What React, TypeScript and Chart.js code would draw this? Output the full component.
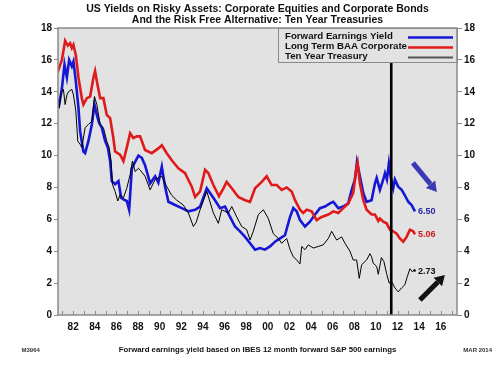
import React, { useEffect, useRef } from "react";
import { Chart, registerables } from "chart.js";

Chart.register(...registerables);

// ---------- text ----------
const TITLE_LINES = [
  "US Yields on Risky Assets: Corporate Equities and Corporate Bonds",
  "And the Risk Free Alternative: Ten Year Treasuries",
];
const SERIES_LABELS = ["Forward Earnings Yield", "Long Term BAA Corporate", "Ten Year Treasury"];
const FOOTNOTE = "Forward earnings yield based on IBES 12 month forward S&P 500 earnings";
const CODE_LABEL = "M3964";
const DATE_LABEL = "MAR 2014";
const LAST_LABELS = ["6.50", "5.06", "2.73"];

// ---------- axes ----------
const X_MIN = 1980.6;
const X_MAX = 2017.5;
const X_TICK_YEARS = [1982, 1984, 1986, 1988, 1990, 1992, 1994, 1996, 1998, 2000, 2002, 2004, 2006, 2008, 2010, 2012, 2014, 2016];
const Y_MIN = 0;
const Y_MAX = 18;
const Y_STEP = 2;
const MARKER_YEAR = 2011.42;

// ---------- series ----------
const fwdYears = [1980.49, 1980.71, 1980.96, 1981.2, 1981.42, 1981.63, 1981.88, 1982.03, 1982.25, 1982.49, 1982.65, 1982.95, 1983.11, 1983.41, 1983.73, 1983.97, 1984.19, 1984.4, 1984.65, 1984.96, 1985.21, 1985.42, 1985.58, 1985.88, 1986.19, 1986.44, 1986.65, 1986.96, 1987.18, 1987.43, 1987.73, 1988.04, 1988.35, 1988.65, 1989.12, 1989.58, 1989.88, 1990.2, 1990.5, 1990.81, 1991.43, 1992.05, 1992.66, 1993.28, 1993.74, 1994.36, 1994.82, 1995.12, 1995.59, 1996.05, 1996.51, 1996.97, 1997.43, 1997.9, 1998.36, 1998.82, 1999.28, 1999.74, 2000.21, 2000.67, 2001.13, 2001.59, 2002.06, 2002.36, 2002.67, 2002.98, 2003.44, 2003.9, 2004.37, 2004.83, 2005.29, 2005.75, 2006.06, 2006.52, 2006.98, 2007.44, 2007.76, 2008.06, 2008.25, 2008.52, 2008.83, 2009.14, 2009.6, 2009.91, 2010.07, 2010.37, 2010.68, 2010.84, 2011.02, 2011.2, 2011.36, 2011.6, 2011.76, 2012.06, 2012.38, 2012.68, 2012.99, 2013.3, 2013.61];
const fwdValues = [13.6, 13.2, 14.2, 15.7, 14.9, 16.0, 15.6, 15.9, 14.65, 13.0, 11.5, 10.25, 10.15, 10.9, 11.95, 13.2, 12.55, 12.05, 11.75, 10.9, 10.5, 9.65, 8.4, 8.2, 8.4, 7.35, 7.25, 7.15, 6.6, 9.2, 9.6, 10.0, 9.85, 9.4, 8.25, 8.7, 8.3, 9.3, 8.05, 7.1, 6.9, 6.7, 6.5, 6.6, 6.8, 7.95, 7.5, 7.2, 6.7, 6.8, 6.15, 5.55, 5.25, 4.9, 4.5, 4.1, 4.2, 4.1, 4.3, 4.6, 4.8, 5.0, 6.15, 6.7, 6.5, 5.95, 5.55, 5.85, 6.3, 6.7, 6.8, 7.0, 7.1, 6.7, 6.8, 7.0, 7.85, 8.5, 9.6, 8.7, 7.65, 7.1, 7.2, 8.25, 8.6, 7.85, 8.5, 8.9, 8.5, 9.5, 8.7, 7.95, 8.5, 8.05, 7.85, 7.5, 7.1, 6.9, 6.5];

const baaYears = [1980.55, 1980.96, 1981.26, 1981.51, 1981.72, 1981.88, 1982.03, 1982.25, 1982.49, 1982.8, 1982.95, 1983.27, 1983.57, 1983.88, 1984.03, 1984.25, 1984.5, 1984.8, 1985.11, 1985.42, 1985.72, 1985.88, 1986.34, 1986.65, 1986.96, 1987.27, 1987.57, 1987.89, 1988.19, 1988.65, 1989.27, 1989.88, 1990.2, 1990.66, 1991.12, 1991.73, 1992.35, 1992.97, 1993.28, 1993.74, 1994.2, 1994.5, 1994.97, 1995.49, 1995.86, 1996.2, 1996.67, 1997.28, 1997.9, 1998.36, 1998.82, 1999.44, 1999.9, 2000.36, 2000.83, 2001.29, 2001.75, 2002.21, 2002.52, 2002.98, 2003.28, 2003.6, 2004.06, 2004.52, 2004.98, 2005.6, 2006.06, 2006.52, 2006.98, 2007.44, 2007.9, 2008.22, 2008.31, 2008.52, 2008.83, 2009.14, 2009.6, 2009.91, 2010.22, 2010.37, 2010.68, 2010.99, 2011.3, 2011.6, 2011.92, 2012.22, 2012.53, 2012.84, 2013.15, 2013.45, 2013.61];
const baaValues = [15.2, 16.0, 17.2, 16.9, 17.05, 16.75, 16.95, 16.3, 14.9, 13.6, 13.2, 13.6, 13.7, 14.9, 15.3, 14.45, 13.6, 13.6, 12.55, 12.35, 11.1, 10.25, 10.05, 9.65, 10.5, 11.4, 11.1, 11.2, 11.2, 10.35, 10.15, 10.45, 10.65, 10.15, 9.7, 9.2, 8.9, 8.05, 7.4, 7.75, 9.1, 8.9, 8.15, 7.45, 7.9, 8.35, 7.95, 7.4, 7.2, 7.1, 7.95, 8.35, 8.7, 8.15, 8.15, 7.85, 8.0, 7.75, 7.2, 6.6, 6.4, 6.6, 6.5, 5.95, 6.15, 6.3, 6.5, 6.4, 6.7, 7.0, 7.65, 9.3, 9.55, 8.25, 7.2, 6.6, 6.3, 6.3, 5.9, 6.05, 5.85, 5.75, 5.35, 5.25, 5.1, 4.8, 4.6, 4.9, 5.35, 5.25, 5.06];

const tsyYears = [1980.49, 1980.71, 1980.89, 1981.1, 1981.26, 1981.42, 1981.57, 1981.88, 1982.03, 1982.25, 1982.43, 1982.65, 1982.8, 1983.11, 1983.41, 1983.73, 1983.97, 1984.19, 1984.5, 1984.8, 1985.11, 1985.33, 1985.51, 1985.63, 1985.88, 1986.13, 1986.34, 1986.65, 1986.96, 1987.27, 1987.48, 1987.73, 1988.04, 1988.19, 1988.65, 1989.12, 1989.58, 1990.2, 1990.66, 1991.12, 1991.58, 1992.19, 1992.66, 1993.12, 1993.37, 1993.74, 1994.36, 1994.97, 1995.43, 1995.74, 1996.35, 1996.67, 1997.13, 1997.59, 1998.05, 1998.36, 1998.66, 1999.13, 1999.59, 2000.05, 2000.51, 2000.97, 2001.29, 2001.75, 2002.06, 2002.36, 2002.61, 2002.98, 2003.14, 2003.44, 2003.75, 2004.21, 2004.67, 2005.13, 2005.6, 2005.91, 2006.37, 2006.83, 2007.14, 2007.6, 2007.9, 2008.22, 2008.46, 2008.68, 2009.14, 2009.45, 2009.6, 2009.75, 2010.07, 2010.22, 2010.51, 2010.74, 2010.99, 2011.23, 2011.45, 2011.76, 2012.06, 2012.38, 2012.68, 2012.9, 2013.15, 2013.39, 2013.54, 2013.61];
const tsyValues = [13.2, 13.0, 13.9, 14.15, 13.2, 13.8, 14.0, 14.15, 13.8, 12.8, 10.9, 10.7, 10.5, 11.75, 11.95, 12.15, 13.7, 13.2, 11.95, 11.75, 10.9, 10.5, 9.65, 8.2, 7.75, 7.15, 7.55, 7.35, 7.95, 8.8, 9.65, 9.0, 9.2, 9.1, 8.7, 7.85, 8.5, 8.7, 8.05, 7.5, 7.2, 6.9, 6.4, 5.55, 5.8, 6.6, 7.75, 6.4, 5.75, 6.6, 6.4, 6.8, 6.15, 5.55, 5.35, 4.7, 5.25, 6.3, 6.6, 6.05, 5.1, 4.8, 4.5, 4.8, 4.1, 3.65, 3.5, 3.2, 4.3, 4.1, 4.4, 4.2, 4.3, 4.4, 4.8, 5.25, 4.7, 4.9, 4.5, 4.0, 3.45, 3.45, 2.3, 3.15, 3.45, 3.85, 3.65, 3.25, 3.05, 2.55, 3.6, 3.35, 2.6, 2.0, 2.1, 1.7, 1.45, 1.7, 1.9, 2.4, 2.9, 2.7, 2.85, 2.73];

// ---------- annotation arrows (data units) ----------
const ARROW_DOWN = { from: [2013.42, 9.54], to: [2015.64, 7.72] };
const ARROW_UP = { from: [2014.07, 0.94], to: [2016.38, 2.51] };

// ---------- styles ----------
const FONT = "Arial, 'Liberation Sans', sans-serif";
const BLUE = "#1616d6";
const RED = "#e01a1a";
const BLACK = "#000000";
const PLOT_BG = "#e2e2e2";
const FRAME = "#8a8a8a";
const COLORS = [BLUE, RED, BLACK];

function toPoints(xs: number[], ys: number[]) {
  return xs.map((x, i) => ({ x, y: ys[i] }));
}

function drawArrow(ctx: CanvasRenderingContext2D, x1: number, y1: number, x2: number, y2: number, color: string, width: number, head: number) {
  const ang = Math.atan2(y2 - y1, x2 - x1);
  const bx = x2 - head * Math.cos(ang);
  const by = y2 - head * Math.sin(ang);
  ctx.strokeStyle = color;
  ctx.lineWidth = width;
  ctx.lineCap = "butt";
  ctx.beginPath();
  ctx.moveTo(x1, y1);
  ctx.lineTo(bx, by);
  ctx.stroke();
  const hw = head * 0.6;
  ctx.fillStyle = color;
  ctx.beginPath();
  ctx.moveTo(x2, y2);
  ctx.lineTo(bx + hw * Math.cos(ang + Math.PI / 2), by + hw * Math.sin(ang + Math.PI / 2));
  ctx.lineTo(bx + hw * Math.cos(ang - Math.PI / 2), by + hw * Math.sin(ang - Math.PI / 2));
  ctx.closePath();
  ctx.fill();
}

const decorPlugin = {
  id: "decor",
  beforeDraw(chart: any) {
    const { ctx, chartArea: a } = chart;
    ctx.save();
    ctx.fillStyle = "#ffffff";
    ctx.fillRect(0, 0, chart.width, chart.height);
    ctx.fillStyle = PLOT_BG;
    ctx.fillRect(a.left, a.top, a.right - a.left, a.bottom - a.top);
    ctx.restore();
  },
  afterDatasetsDraw(chart: any) {
    const { ctx, chartArea: a, scales } = chart;
    const xs = scales.x;
    const ys = scales.y;
    ctx.save();

    // vertical marker line
    const mx = xs.getPixelForValue(MARKER_YEAR);
    ctx.strokeStyle = "#000";
    ctx.lineWidth = 2.6;
    ctx.beginPath();
    ctx.moveTo(mx, a.top);
    ctx.lineTo(mx, a.bottom);
    ctx.stroke();

    // last value labels
    ctx.font = `bold 9px ${FONT}`;
    ctx.textBaseline = "middle";
    ctx.textAlign = "left";
    chart.data.datasets.forEach((ds: any, i: number) => {
      const last = ds.data[ds.data.length - 1];
      const px = xs.getPixelForValue(last.x);
      const py = ys.getPixelForValue(last.y);
      ctx.fillStyle = i === 0 ? "#2a2aa8" : i === 1 ? "#d01a1a" : "#111";
      ctx.fillText(LAST_LABELS[i], px + 3, py);
    });

    // arrows
    drawArrow(ctx, xs.getPixelForValue(ARROW_DOWN.from[0]), ys.getPixelForValue(ARROW_DOWN.from[1]),
      xs.getPixelForValue(ARROW_DOWN.to[0]), ys.getPixelForValue(ARROW_DOWN.to[1]), "#3a3ab4", 5, 10);
    drawArrow(ctx, xs.getPixelForValue(ARROW_UP.from[0]), ys.getPixelForValue(ARROW_UP.from[1]),
      xs.getPixelForValue(ARROW_UP.to[0]), ys.getPixelForValue(ARROW_UP.to[1]), "#111111", 5, 10);

    // minor year ticks on bottom axis (inward)
    ctx.strokeStyle = FRAME;
    ctx.lineWidth = 1;
    for (let yr = Math.ceil(X_MIN); yr <= Math.floor(X_MAX); yr++) {
      const tx = Math.round(xs.getPixelForValue(yr)) + 0.5;
      ctx.beginPath();
      ctx.moveTo(tx, a.bottom);
      ctx.lineTo(tx, a.bottom - 4);
      ctx.stroke();
    }

    // legend box
    const lw = 179;
    const lh = 34;
    const lx = a.right - lw;
    const ly = a.top;
    ctx.fillStyle = PLOT_BG;
    ctx.fillRect(lx, ly, lw, lh);
    ctx.strokeStyle = FRAME;
    ctx.lineWidth = 1;
    ctx.strokeRect(lx + 0.5, ly + 0.5, lw, lh);
    ctx.font = `bold 9.7px ${FONT}`;
    ctx.textBaseline = "middle";
    ctx.textAlign = "left";
    SERIES_LABELS.forEach((label, i) => {
      const cy = ly + 8.5 + i * 10;
      ctx.fillStyle = "#111";
      ctx.fillText(label, lx + 7, cy);
      ctx.strokeStyle = i === 2 ? "#555" : COLORS[i];
      ctx.lineWidth = i === 2 ? 2 : 2.6;
      ctx.beginPath();
      ctx.moveTo(lx + 130, cy + 1);
      ctx.lineTo(lx + 175, cy + 1);
      ctx.stroke();
    });

    // frame
    ctx.strokeStyle = FRAME;
    ctx.lineWidth = 1.5;
    ctx.strokeRect(a.left, a.top, a.right - a.left, a.bottom - a.top);
    ctx.restore();
  },
  afterDraw(chart: any) {
    const { ctx, chartArea: a } = chart;
    const cx = (a.left + a.right) / 2;
    ctx.save();
    ctx.fillStyle = "#111";
    ctx.textAlign = "center";
    ctx.textBaseline = "alphabetic";
    ctx.font = `bold 10.5px ${FONT}`;
    ctx.fillText(TITLE_LINES[0], cx, 11.7);
    ctx.fillText(TITLE_LINES[1], cx, 23.3);
    ctx.font = `bold 7.8px ${FONT}`;
    ctx.fillText(FOOTNOTE, cx, 352.3);
    ctx.font = `bold 6px ${FONT}`;
    ctx.fillStyle = "#333";
    ctx.textAlign = "left";
    ctx.fillText(CODE_LABEL, 21.5, 352.3);
    ctx.textAlign = "right";
    ctx.fillText(DATE_LABEL, 492, 352.3);
    ctx.restore();
  },
};

export default function App() {
  const ref = useRef<HTMLCanvasElement>(null);
  useEffect(() => {
    document.body.style.margin = "0";
    const canvas = ref.current as HTMLCanvasElement;
    const tickFont = { family: FONT, size: 10, weight: "bold" as const };
    const chart = new Chart(canvas, {
      type: "line",
      data: {
        datasets: [
          { label: SERIES_LABELS[0], data: toPoints(fwdYears, fwdValues), borderColor: BLUE, borderWidth: 2.6, pointRadius: 0, tension: 0, order: 3 },
          { label: SERIES_LABELS[1], data: toPoints(baaYears, baaValues), borderColor: RED, borderWidth: 2.6, pointRadius: 0, tension: 0, order: 2 },
          { label: SERIES_LABELS[2], data: toPoints(tsyYears, tsyValues), borderColor: BLACK, borderWidth: 1, pointRadius: 0, tension: 0, order: 1 },
        ],
      },
      options: {
        responsive: false,
        animation: false,
        devicePixelRatio: 1,
        layout: { padding: { top: 28, left: 0, right: 0, bottom: 0 } },
        plugins: {
          legend: { display: false },
          title: { display: false },
          tooltip: { enabled: false },
        },
        scales: {
          x: {
            type: "linear",
            min: X_MIN,
            max: X_MAX,
            afterFit: (s: any) => { s.height = 52; },
            afterBuildTicks: (s: any) => { s.ticks = X_TICK_YEARS.map((v) => ({ value: v })); },
            ticks: {
              callback: (v: any) => String(Number(v) % 100).padStart(2, "0"),
              font: tickFont,
              color: "#111",
              padding: 6,
              maxRotation: 0,
              autoSkip: false,
            },
            grid: { display: false, drawTicks: false, tickLength: 0 },
            border: { display: false },
          },
          y: {
            position: "left",
            min: Y_MIN,
            max: Y_MAX,
            afterFit: (s: any) => { s.width = 58; },
            ticks: { stepSize: Y_STEP, font: tickFont, color: "#111", padding: 2 },
            grid: { drawOnChartArea: false, drawTicks: true, tickLength: 4, color: FRAME },
            border: { display: false },
          },
          y2: {
            position: "right",
            min: Y_MIN,
            max: Y_MAX,
            afterFit: (s: any) => { s.width = 44; },
            ticks: { stepSize: Y_STEP, font: tickFont, color: "#111", padding: 2 },
            grid: { drawOnChartArea: false, drawTicks: true, tickLength: 5, color: FRAME },
            border: { display: false },
          },
        },
      } as any,
      plugins: [decorPlugin],
    });
    return () => chart.destroy();
  }, []);
  return <canvas ref={ref} width={501} height={367} style={{ display: "block" }} />;
}
